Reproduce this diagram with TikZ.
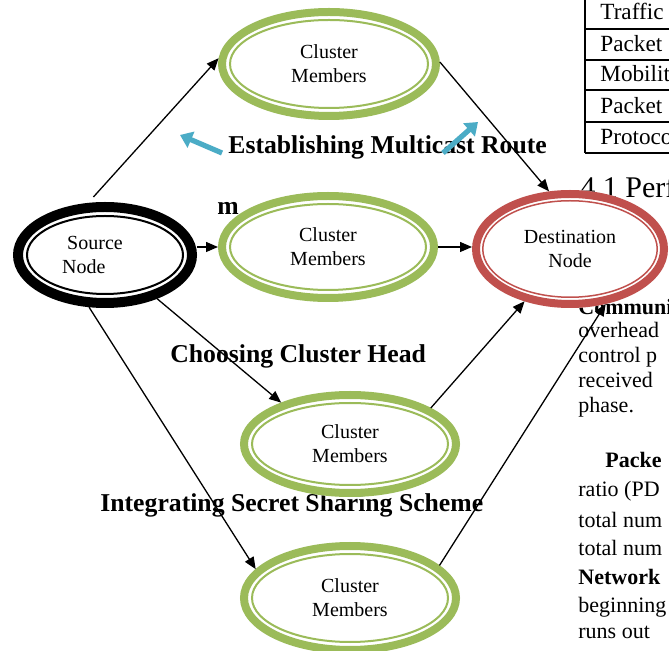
\documentclass[tikz,border=0pt]{standalone}
\usepackage{fontspec}
\setmainfont{Liberation Serif}
\usetikzlibrary{arrows.meta,shapes.geometric,calc}
\definecolor{cgreen}{HTML}{9BBB59}
\definecolor{cred}{HTML}{C0504D}
\definecolor{cblue}{HTML}{4BACC6}
\tikzset{
  ringnode/.style={ellipse, fill=white, inner sep=0pt, outer sep=0pt, align=center,
    font=\fontsize{10}{12}\selectfont},
  conn/.style={-{Triangle[length=6pt,width=5pt]}, line width=0.65pt, black},
  barrow/.style={-{Triangle[length=6pt,width=8.5pt]}, line width=2.6pt, cblue},
  lbl/.style={font=\fontsize{12.85}{15}\selectfont\bfseries, inner sep=0pt, anchor=base west},
  body/.style={font=\fontsize{11}{13}\selectfont, inner sep=0pt, anchor=base west},
  bodyb/.style={body, font=\fontsize{11}{13}\selectfont\bfseries},
  tabtext/.style={font=\fontsize{11.6}{13}\selectfont, inner sep=0pt, anchor=base west},
  tabline/.style={line width=0.7pt, black}
}
\begin{document}
\begin{tikzpicture}[x=0.5pt,y=-0.5pt]
\useasboundingbox (0,0) rectangle (669,651);
\clip (0,0) rectangle (669,651);
\fill[white] (0,0) rectangle (669,651);

% ---- page text on the right ----
\draw[tabline] (585,0) -- (585,153);
\foreach \yy in {29,60,90,122,153} \draw[tabline] (585,\yy) -- (669,\yy);
\node[tabtext] (t1) at (600,20) {Traffic};
\node[tabtext] (t2) at (600,52) {Packet};
\node[tabtext] (t3) at (600,82) {Mobility};
\node[tabtext] (t4) at (600,114) {Packet};
\node[tabtext] (t5) at (600,145) {Protocol};
\node[body, font=\fontsize{15}{17}\selectfont] (h41) at (580,198) {4.1 Perf};
\node[bodyb] (p0) at (578,315) {Communi};
\node[body] (p1) at (578,338) {overhead};
\node[body] (p2) at (578,363) {control p};
\node[body] (p3) at (578,388) {received};
\node[body] (p4) at (578,413) {phase.};
\node[bodyb] (p5) at (605,468) {Packe};
\node[body] (p6) at (578,497) {ratio (PD};
\node[body] (p7) at (578,528) {total num};
\node[body] (p8) at (578,556) {total num};
\node[bodyb] (p9) at (578,584) {Network};
\node[body] (p10) at (578,612) {beginning};
\node[body] (p11) at (578,639) {runs out};

% ---- bold labels ----
\node[lbl] (l1) at (228,154) {Establishing Multicast Route};
\node[lbl] (l4) at (217,215) {m};
\node[lbl] (l2) at (170,363) {Choosing Cluster Head};
\node[lbl] (l3) at (100,512) {Integrating Secret Sharing Scheme};

% ---- nodes with double rings ----
\node[ringnode, minimum width=92pt, minimum height=53pt, align=left] (S) at (105,255)
  {\hspace*{2.5pt}Source\hspace*{12.5pt}\\Node};
\draw[black, line width=5pt] (S.center) ellipse [x radius=87, y radius=48];
\draw[black, line width=1pt] (S.center) ellipse [x radius=78, y radius=39];

\node[ringnode, minimum width=111pt, minimum height=56pt] (T) at (329,64) {Cluster\\Members};
\draw[cgreen, line width=4pt] (T.center) ellipse [x radius=107, y radius=52];
\draw[cgreen, line width=1pt] (T.center) ellipse [x radius=99, y radius=44];

\node[ringnode, minimum width=110pt, minimum height=55pt] (M) at (328,247) {Cluster\\Members};
\draw[cgreen, line width=4pt] (M.center) ellipse [x radius=106, y radius=51];
\draw[cgreen, line width=1pt] (M.center) ellipse [x radius=98, y radius=43];

\node[ringnode, minimum width=110pt, minimum height=53pt] (C) at (350,444) {Cluster\\Members};
\draw[cgreen, line width=4pt] (C.center) ellipse [x radius=106, y radius=49];
\draw[cgreen, line width=1pt] (C.center) ellipse [x radius=98, y radius=41];

\node[ringnode, minimum width=110pt, minimum height=56pt] (B) at (350,598) {Cluster\\Members};
\draw[cgreen, line width=4pt] (B.center) ellipse [x radius=106, y radius=52];
\draw[cgreen, line width=1pt] (B.center) ellipse [x radius=98, y radius=44];

\node[ringnode, minimum width=98pt, minimum height=59pt] (D) at (570,249) {Destination\\Node};
\draw[cred, line width=4pt] (D.center) ellipse [x radius=94, y radius=55];
\draw[cred, line width=0.75pt] (D.center) ellipse [x radius=87.25, y radius=48.25];

% ---- connectors ----
\draw[conn, shorten <=4pt] (S.108) -- (T.177);
\draw[conn] (T.1) -- (D.110);
\draw[conn] (S.east |- M.west) -- (M.west);
\draw[conn] (M.east) -- (M.east -| D.west);
\draw[conn] (S.320) -- (C.149);
\draw[conn] (C.24) -- (D.229);
\draw[conn] (S.253) -- (B.163);
\draw[conn] (B.20) -- (D.303);

% ---- blue arrows ----
\coordinate (b1s) at (222,153);
\coordinate (b1e) at (180,135);
\coordinate (b2s) at (443,153);
\coordinate (b2e) at (478,122);
\draw[barrow] (b1s) -- (b1e);
\draw[barrow] (b2s) -- (b2e);
\end{tikzpicture}
\end{document}
